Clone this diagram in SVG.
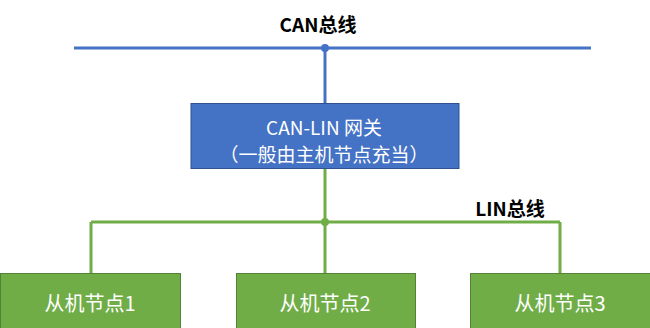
<svg xmlns="http://www.w3.org/2000/svg" width="650" height="328" viewBox="0 0 650 328">
<style>
.t{font-family:"Noto Sans CJK SC","Liberation Sans",sans-serif;text-anchor:middle;dominant-baseline:central}
.lbl{font-size:19px;font-weight:bold;fill:#000}
.w{fill:#fff;font-size:19px}
.w2{fill:#fff;font-size:20px}
.blue{stroke:#4472C4;stroke-width:3;fill:none}
.green{stroke:#70AD47;stroke-width:3;fill:none}
.gbox{fill:#70AD47;stroke:#548235;stroke-width:1}
</style>
<rect width="650" height="328" fill="#fff"/>
<g id="connectors">
<line class="blue" x1="74" y1="48" x2="591" y2="48"/>
<line class="blue" x1="325" y1="48" x2="325" y2="104"/>
<circle cx="325" cy="48" r="4" fill="#4472C4"/>
<line class="green" x1="325" y1="168" x2="325" y2="222"/>
<line class="green" x1="91" y1="222" x2="560" y2="222"/>
<circle cx="325" cy="222" r="4" fill="#70AD47"/>
<line class="green" x1="91" y1="222" x2="91" y2="273"/>
<line class="green" x1="325" y1="222" x2="325" y2="273"/>
<line class="green" x1="560" y1="222" x2="560" y2="273"/>
</g>
<g id="can-label"><text class="t lbl" x="318" y="23">CAN总线</text></g>
<g id="lin-label"><text class="t lbl" x="510" y="207">LIN总线</text></g>
<g id="gateway">
<rect x="191" y="103.5" width="268" height="65" fill="#4472C4" stroke="#2F528F" stroke-width="1"/>
<text class="t w" x="324" y="126">CAN-LIN 网关</text>
<text class="t w" x="324" y="153">（一般由主机节点充当）</text>
</g>
<g id="slave1">
<rect class="gbox" x="0.5" y="273.5" width="180" height="56"/>
<text class="t w2" x="90" y="302">从机节点1</text>
</g>
<g id="slave2">
<rect class="gbox" x="236.5" y="273.5" width="179" height="56"/>
<text class="t w2" x="325" y="302">从机节点2</text>
</g>
<g id="slave3">
<rect class="gbox" x="470.5" y="273.5" width="180" height="56"/>
<text class="t w2" x="560" y="302">从机节点3</text>
</g>
</svg>
